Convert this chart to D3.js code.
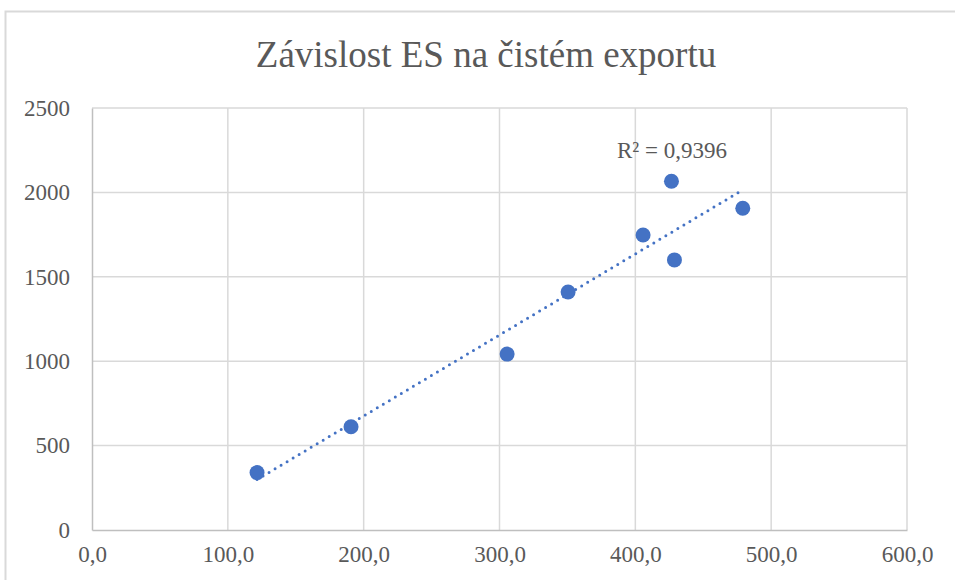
<!DOCTYPE html>
<html>
<head>
<meta charset="utf-8">
<script src="https://cdn.jsdelivr.net/npm/d3@7"></script>
<style>
    body { margin: 0; background: #fff; }
    text { font-family: "Liberation Serif", "Times New Roman", serif; fill: #595959; }
</style>
</head>
<body>
<svg id="chart" width="955" height="580"></svg>
<script>
// Chart values.
var exportValues = [121.5, 190.7, 305.6, 350.5, 405.7, 426.6, 428.8, 479.1];
var esValues = [340, 612, 1042, 1410, 1748, 2066, 1600, 1906];
var xTicks = [0, 100, 200, 300, 400, 500, 600];
var yTicks = [0, 500, 1000, 1500, 2000, 2500];
var title = 'Závislost ES na čistém exportu';
var rSquaredLabel = 'R² = 0,9396';

var svg = d3.select('#chart');

var margin = { left: 92, right: 907, top: 108, bottom: 530 };

var x = d3.scaleLinear().domain([0, 600]).range([margin.left, margin.right]);
var y = d3.scaleLinear().domain([0, 2500]).range([margin.bottom, margin.top]);

// Outer chart border.
svg.append('rect')
    .attr('x', 5.5)
    .attr('y', 11.5)
    .attr('width', 1000)
    .attr('height', 1000)
    .attr('fill', 'none')
    .attr('stroke', '#d9d9d9')
    .attr('stroke-width', 2);

// Title.
svg.append('text')
    .attr('x', 486)
    .attr('y', 67)
    .attr('text-anchor', 'middle')
    .style('font-size', '37px')
    .text(title);

// Gridlines.
svg.append('g')
    .selectAll('line')
    .data(xTicks.slice(1))
    .enter()
    .append('line')
    .attr('x1', function (d) { return x(d); })
    .attr('x2', function (d) { return x(d); })
    .attr('y1', y(2500))
    .attr('y2', y(0))
    .attr('stroke', '#d9d9d9')
    .attr('stroke-width', 1.5);

svg.append('g')
    .selectAll('line')
    .data(yTicks.slice(1))
    .enter()
    .append('line')
    .attr('x1', x(0))
    .attr('x2', x(600))
    .attr('y1', function (d) { return y(d); })
    .attr('y2', function (d) { return y(d); })
    .attr('stroke', '#d9d9d9')
    .attr('stroke-width', 1.5);

// Axes (no tick marks, Excel style).
var xAxis = svg.append('g')
    .attr('transform', 'translate(0,' + y(0) + ')')
    .call(d3.axisBottom(x)
        .tickValues(xTicks)
        .tickSize(0)
        .tickPadding(16)
        .tickFormat(function (d) { return d3.format('.1f')(d).replace('.', ','); }));

var yAxis = svg.append('g')
    .attr('transform', 'translate(' + x(0) + ',0)')
    .call(d3.axisLeft(y)
        .tickValues(yTicks)
        .tickSize(0)
        .tickPadding(22)
        .tickFormat(d3.format('d')));

[xAxis, yAxis].forEach(function (axis) {
    axis.select('.domain').attr('stroke', '#bfbfbf').attr('stroke-width', 1.5);
    axis.selectAll('text')
        .style('font-size', '23px')
        .style('font-family', '"Liberation Serif", "Times New Roman", serif')
        .attr('fill', '#595959');
});

// Linear trendline from the data.
var points = exportValues.map(function (v, i) {
    return { x: v, y: esValues[i] };
});
var n = points.length;
var meanX = d3.mean(points, function (d) { return d.x; });
var meanY = d3.mean(points, function (d) { return d.y; });
var slope = d3.sum(points, function (d) { return (d.x - meanX) * (d.y - meanY); }) /
    d3.sum(points, function (d) { return (d.x - meanX) * (d.x - meanX); });
var intercept = meanY - slope * meanX;
var xExtent = d3.extent(exportValues);

svg.append('line')
    .attr('x1', x(xExtent[0]))
    .attr('y1', y(slope * xExtent[0] + intercept))
    .attr('x2', x(xExtent[1]))
    .attr('y2', y(slope * xExtent[1] + intercept))
    .attr('stroke', '#4472c4')
    .attr('stroke-width', 3)
    .attr('stroke-linecap', 'round')
    .attr('stroke-dasharray', '0 7');

// Points.
svg.append('g')
    .selectAll('circle')
    .data(points)
    .enter()
    .append('circle')
    .attr('cx', function (d) { return x(d.x); })
    .attr('cy', function (d) { return y(d.y); })
    .attr('r', 7.5)
    .attr('fill', '#4472c4');

// R squared label.
svg.append('text')
    .attr('x', 617)
    .attr('y', 158)
    .style('font-size', '23px')
    .text(rSquaredLabel);
</script>
</body>
</html>
